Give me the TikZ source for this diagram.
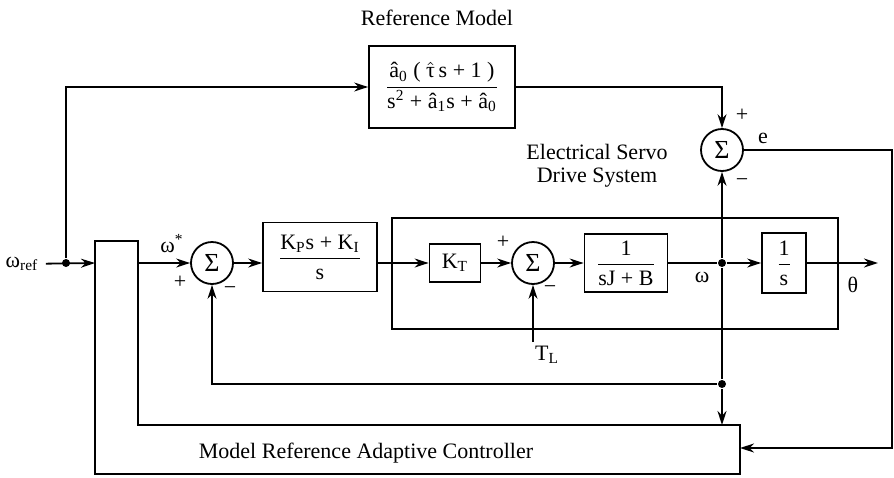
\documentclass[tikz,border=0pt]{standalone}
\usepackage{fontspec}
\setmainfont{Liberation Serif}
\usepackage{amsmath}
\usetikzlibrary{arrows.meta}
\newcommand{\blkfrac}[2]{$\dfrac{\text{#1}}{\text{#2}}$}

\begin{document}
\begin{tikzpicture}[x=0.5pt,y=-0.5pt,line width=0.9pt,>={Stealth[length=7pt,width=4.5pt]},
  font=\fontsize{11}{13}\selectfont,
  blk/.style={draw,inner sep=1pt},
  sumnode/.style={draw,circle,minimum size=21pt,inner sep=0pt,font=\fontsize{13}{13}\selectfont},
  dotnode/.style={circle,fill,inner sep=0pt,minimum size=4pt},
  sgn/.style={inner sep=0pt}]
\useasboundingbox (0,0) rectangle (894,477);
% ---- reference model ----
\node (reflbl) at (437,18) {Reference Model};
\node[blk,minimum width=73pt,minimum height=41pt] (refm) at (442,87)
  {\blkfrac{â\textsubscript{0} ( $\hat{\text{τ}}$\,s + 1 )}{s\textsuperscript{2} + â\textsubscript{1}s + â\textsubscript{0}}};
% ---- adaptive controller (L-shaped block) ----
\draw (95,241) -- (138,241) -- (138,425) -- (740,425) -- (740,474) -- (95,474) -- cycle;
\node (mraclbl) at (366,453) {Model Reference Adaptive Controller};
\coordinate (mracin) at (95,263);
\coordinate (mracout) at (138,263);
\coordinate (mractop) at (722,425);
\coordinate (mracright) at (740,448);
% ---- servo drive frame ----
\draw (392,218) rectangle (838,329);
\node[align=center,font=\fontsize{11}{11.5}\selectfont] (servolbl) at (597,166) {Electrical Servo\\Drive System};
% ---- forward path ----
\node (wref) at (22,264) {ω\textsubscript{ref}};
\node[dotnode] (jref) at (66,263) {};
\node[sumnode] (sum1) at (212,263) {Σ};
\node[blk,minimum width=57pt,minimum height=34.5pt] (pi) at (320,257)
  {\blkfrac{K\textsubscript{P}s + K\textsubscript{I}}{s}};
\node[blk,minimum width=25.5pt,minimum height=19pt] (kt) at (455,263) {K\textsubscript{T}};
\node[sumnode] (sum2) at (533,263) {Σ};
\node[blk,minimum width=41.5pt,minimum height=29pt] (plant) at (626,263) {\blkfrac{1}{sJ + B}};
\node[dotnode] (jw) at (722,263) {};
\node[blk,minimum width=22pt,minimum height=30pt] (integ) at (784,263) {\blkfrac{1}{s}};
\coordinate (thetaout) at (878,263);
\coordinate (tl) at (533,342);
% ---- error and feedback ----
\node[sumnode] (sume) at (722,150) {Σ};
\node[dotnode] (jfb) at (722,384) {};
\coordinate (ecorner) at (892,150);
% ---- connectors ----
\draw[->] (wref) -- (mracin);
\draw[->] (jref) |- (refm);
\draw[->] (mracout) -- (sum1);
\draw[->] (sum1) -- (sum1 -| pi.west);
\draw[->] (sum1 -| pi.east) -- (kt);
\draw[->] (kt) -- (sum2);
\draw[->] (sum2) -- (plant);
\draw (plant) -- (jw);
\draw[->] (jw) -- (integ);
\draw[->] (integ) -- (thetaout);
\draw[->] (tl) -- (sum2);
\draw[->] (jw) -- (sume);
\draw (jw) -- (jfb);
\draw[->] (jfb) -- (mractop);
\draw[->] (jfb) -| (sum1);
\draw[->] (refm) -| (sume);
\draw[->] (sume) -- (ecorner) |- (mracright);
% ---- labels and signs ----
\node (wstar) at (172,244) {ω\textsuperscript{*}};
\node (wout) at (702,277) {ω};
\node (theta) at (853,285) {θ};
\node (tllbl) at (547,355) {T\textsubscript{L}};
\node (elbl) at (763,138) {e};
\node[sgn] (p1) at (180,282) {+};
\node[sgn] (m1) at (230,291) {−};
\node[sgn] (p2) at (503,242) {+};
\node[sgn] (m2) at (550,290) {−};
\node[sgn] (pe) at (742,115) {+};
\node[sgn] (me) at (742,183) {−};
\end{tikzpicture}
\end{document}
